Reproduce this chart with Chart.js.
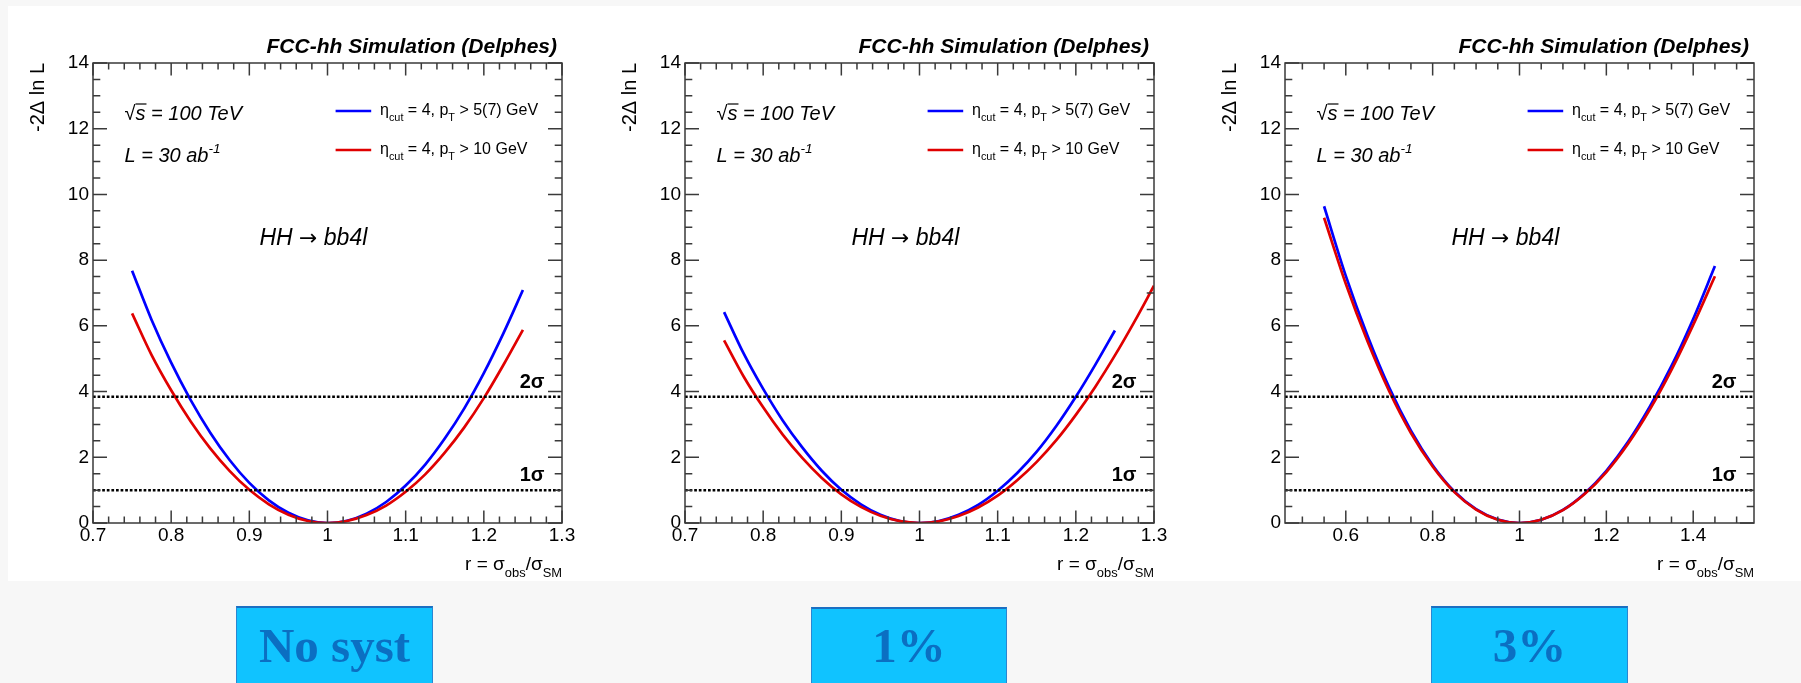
<!DOCTYPE html>
<html>
<head>
<meta charset="utf-8">
<script src="https://cdn.jsdelivr.net/npm/chart.js@4.4.1/dist/chart.umd.min.js"></script>
<style>
body { margin: 0; background: #f7f7f7; width: 1801px; height: 683px; overflow: hidden; position: relative; }
#sheet { position: absolute; left: 8px; top: 6px; width: 1793px; height: 575px; background: #fff; }
canvas { position: absolute; top: 0; }
.tag { position: absolute; height: 100px; box-sizing: border-box; background: #10c3ff;
       border: 1px solid #2a86d2; border-top: 2px solid #1b6fc2; }
.tag span { position: absolute; left: 0; right: 0; text-align: center;
            font: bold 49px 'Liberation Serif', serif; line-height: 49px; color: #0b6fc2; }
</style>
</head>
<body>
<div id="sheet"></div>
<canvas id="c0" width="600" height="590" style="left:0px"></canvas>
<canvas id="c1" width="600" height="590" style="left:592px"></canvas>
<canvas id="c2" width="600" height="590" style="left:1192px"></canvas>
<div class="tag" style="left:236px;top:606px;width:197px"><span id="t0" style="top:13px"></span></div>
<div class="tag" style="left:811px;top:607px;width:196px"><span id="t1" style="top:12px"></span></div>
<div class="tag" style="left:1431px;top:606px;width:197px"><span id="t2" style="top:13px"></span></div>

<script>
// r = sigma_obs / sigma_SM sample points
const rNarrow = [0.75, 0.775, 0.8, 0.825, 0.85, 0.875, 0.9, 0.925, 0.95, 0.975, 1,
                 1.025, 1.05, 1.075, 1.1, 1.125, 1.15, 1.175, 1.2, 1.225, 1.25];
const rNarrowExt = [0.75, 0.775, 0.8, 0.825, 0.85, 0.875, 0.9, 0.925, 0.95, 0.975, 1,
                    1.025, 1.05, 1.075, 1.1, 1.125, 1.15, 1.175, 1.2, 1.225, 1.25, 1.275, 1.3];
const rWide = [0.55, 0.6, 0.65, 0.7, 0.75, 0.8, 0.85, 0.9, 0.95, 1,
               1.05, 1.1, 1.15, 1.2, 1.25, 1.3, 1.35, 1.4, 1.45];

// -2 Delta ln L, no syst
const blueNoSyst = [7.68, 6.18, 4.88, 3.74, 2.75, 1.91, 1.22, 0.69, 0.31, 0.08, 0,
                    0.07, 0.285, 0.64, 1.14, 1.78, 2.57, 3.49, 4.56, 5.77, 7.09];
const redNoSyst = [6.38, 5.11, 4.04, 3.09, 2.27, 1.58, 1.01, 0.57, 0.25, 0.06, 0,
                   0.06, 0.24, 0.53, 0.95, 1.48, 2.14, 2.91, 3.80, 4.81, 5.88];
// 1% syst
const blueSyst1 = [6.42, 5.16, 4.08, 3.12, 2.30, 1.59, 1.01, 0.57, 0.25, 0.06, 0,
                   0.06, 0.25, 0.55, 0.98, 1.52, 2.17, 2.95, 3.84, 4.82, 5.86];
const redSyst1 = [5.56, 4.46, 3.52, 2.69, 1.98, 1.37, 0.87, 0.49, 0.22, 0.055, 0,
                  0.05, 0.21, 0.47, 0.83, 1.30, 1.86, 2.52, 3.29, 4.15, 5.10, 6.13, 7.22];
// 3% syst
const blueSyst3 = [9.64, 7.52, 5.70, 4.12, 2.81, 1.76, 0.96, 0.42, 0.105, 0,
                   0.10, 0.40, 0.90, 1.59, 2.47, 3.54, 4.78, 6.21, 7.82];
const redSyst3 = [9.29, 7.28, 5.53, 4.01, 2.74, 1.72, 0.94, 0.41, 0.10, 0,
                  0.10, 0.39, 0.88, 1.55, 2.41, 3.45, 4.66, 6.03, 7.51];

const xTicksNarrow = [0.7, 0.8, 0.9, 1, 1.1, 1.2, 1.3];
const xTicksWide = [0.6, 0.8, 1, 1.2, 1.4];
const yTicks = [0, 2, 4, 6, 8, 10, 12, 14];
const sigmaLevels = [1, 3.84];
const sigmaLabels = ['1σ', '2σ'];
const tagLabels = ['No syst', '1%', '3%'];

const legendBlue = [['η', 'n'], ['cut', 'sub'], [' = 4, p', 'n'], ['T', 'sub'], [' > 5(7) GeV', 'n']];
const legendRed = [['η', 'n'], ['cut', 'sub'], [' = 4, p', 'n'], ['T', 'sub'], [' > 10 GeV', 'n']];
const xTitle = [['r = σ', 'n'], ['obs', 'sub'], ['/σ', 'n'], ['SM', 'sub']];
const sqrtText = [['√', 'n'], ['s', 'ovl'], [' = 100 TeV', 'n']];
const lumiText = [['L = 30 ab', 'n'], ['-1', 'sup']];
const procText = [['HH ', 'n'], ['→', 'arr'], [' bb4l', 'n']];

const FONT = "'Liberation Sans', Arial, sans-serif";
Chart.defaults.font.family = FONT;

function partFont(kind, size, style) {
    if (kind === 'arr') return `normal ${size * 0.95}px 'DejaVu Sans', sans-serif`;
    const s = (kind === 'sub' || kind === 'sup') ? size * 0.68 : size;
    return `${style} ${s}px ${FONT}`;
}

function drawRich(ctx, parts, x, y, size, style, align) {
    let w = 0;
    parts.forEach(([t, k]) => { ctx.font = partFont(k, size, style); w += ctx.measureText(t).width; });
    let cx = align === 'right' ? x - w : x;
    ctx.textAlign = 'left';
    ctx.textBaseline = 'alphabetic';
    parts.forEach(([t, k]) => {
        ctx.font = partFont(k, size, style);
        const tw = ctx.measureText(t).width;
        let dy = 0;
        if (k === 'sub') dy = size * 0.36;
        if (k === 'sup') dy = -size * 0.45;
        ctx.fillText(t, cx, y + dy);
        if (k === 'ovl') {
            ctx.beginPath();
            ctx.lineWidth = 1.2;
            ctx.moveTo(cx, y - size * 0.8);
            ctx.lineTo(cx + tw + 1, y - size * 0.8);
            ctx.stroke();
        }
        cx += tw;
    });
}

const rootStyle = {
    id: 'rootStyle',
    afterDraw(chart, args, opts) {
        const { ctx, chartArea: a, scales: { x, y } } = chart;
        const p = opts.panel;
        ctx.save();
        ctx.strokeStyle = '#3a3a3a';
        ctx.lineWidth = 1.5;
        ctx.strokeRect(a.left, a.top, a.width, a.height);

        // x ticks, top and bottom, pointing inward
        ctx.beginPath();
        for (let n = Math.ceil(p.xMin / p.xMinor - 1e-6); n * p.xMinor <= p.xMax + 1e-9; n++) {
            const v = n * p.xMinor;
            const major = p.xTicks.some(t => Math.abs(t - v) < 1e-6);
            const len = major ? 12.5 : 6.5;
            const px = x.getPixelForValue(v);
            ctx.moveTo(px, a.bottom); ctx.lineTo(px, a.bottom - len);
            ctx.moveTo(px, a.top); ctx.lineTo(px, a.top + len);
        }
        // y ticks, left and right
        for (let n = 0; n * 0.5 <= 14; n++) {
            const v = n * 0.5;
            const len = (v % 2 === 0) ? 14 : 7.3;
            const py = y.getPixelForValue(v);
            ctx.moveTo(a.left, py); ctx.lineTo(a.left + len, py);
            ctx.moveTo(a.right, py); ctx.lineTo(a.right - len, py);
        }
        ctx.stroke();

        ctx.fillStyle = '#000';
        ctx.strokeStyle = '#000';
        // header
        ctx.font = `italic bold 21px ${FONT}`;
        ctx.textAlign = 'right';
        ctx.fillText('FCC-hh Simulation (Delphes)', a.right - 5, a.top - 10);

        // y title
        ctx.save();
        ctx.translate(a.left - 49, a.top);
        ctx.rotate(-Math.PI / 2);
        ctx.font = `20px ${FONT}`;
        ctx.textAlign = 'right';
        ctx.fillText('-2Δ ln L', 0, 0);
        ctx.restore();

        // x title
        drawRich(ctx, xTitle, a.right, a.bottom + 47, 19, 'normal', 'right');

        // labels
        drawRich(ctx, sqrtText, a.left + 31.5, a.top + 57, 20, 'italic', 'left');
        drawRich(ctx, lumiText, a.left + 31.5, a.top + 98.7, 20, 'italic', 'left');
        drawRich(ctx, procText, a.left + 166.5, a.top + 182, 23, 'italic', 'left');

        // legend
        const ds = chart.data.datasets;
        [[ds[3], legendBlue, 48], [ds[2], legendRed, 87]].forEach(([d, parts, dy]) => {
            ctx.beginPath();
            ctx.strokeStyle = d.borderColor;
            ctx.lineWidth = 2.7;
            ctx.moveTo(a.left + 242.6, a.top + dy);
            ctx.lineTo(a.left + 278.2, a.top + dy);
            ctx.stroke();
            ctx.fillStyle = '#000';
            drawRich(ctx, parts, a.left + 287, a.top + dy + 3.8, 16, 'normal', 'left');
        });

        // sigma labels
        ctx.font = `bold 20px ${FONT}`;
        ctx.textAlign = 'right';
        sigmaLevels.forEach((lv, i) => {
            ctx.fillText(sigmaLabels[i], a.right - 17.5, y.getPixelForValue(lv) - 9);
        });
        ctx.restore();
    }
};

function pts(xs, ys) {
    return xs.map((v, i) => ({ x: v, y: ys[i] }));
}

function makeChart(id, panel) {
    return new Chart(document.getElementById(id), {
        type: 'line',
        data: {
            datasets: [
                ...sigmaLevels.map(lv => ({
                    data: [{ x: panel.xMin, y: lv }, { x: panel.xMax, y: lv }],
                    borderColor: '#000', borderWidth: 2.5, borderDash: [2.7, 1.9],
                    pointRadius: 0
                })),
                { data: pts(panel.rRed, panel.red), borderColor: '#e00000', borderWidth: 2.7,
                  pointRadius: 0, cubicInterpolationMode: 'monotone' },
                { data: pts(panel.rBlue, panel.blue), borderColor: '#0000ff', borderWidth: 2.7,
                  pointRadius: 0, cubicInterpolationMode: 'monotone' }
            ]
        },
        options: {
            responsive: false,
            animation: false,
            devicePixelRatio: 1,
            layout: { padding: { left: 33, right: 38, top: 63, bottom: 27 } },
            plugins: { legend: { display: false }, tooltip: { enabled: false }, rootStyle: { panel } },
            scales: {
                x: {
                    type: 'linear', min: panel.xMin, max: panel.xMax,
                    grid: { display: false, drawTicks: false }, border: { display: false },
                    ticks: { padding: 1, color: '#000', font: { size: 19 }, maxRotation: 0, autoSkip: false,
                             callback: v => String(+v.toFixed(2)) },
                    afterBuildTicks: s => { s.ticks = panel.xTicks.map(v => ({ value: v })); },
                    afterFit: s => { s.height = 40; s.paddingLeft = 0; s.paddingRight = 0; }
                },
                y: {
                    type: 'linear', min: 0, max: 14,
                    grid: { display: false, drawTicks: false }, border: { display: false },
                    ticks: { padding: 4, color: '#000', font: { size: 19 } },
                    afterBuildTicks: s => { s.ticks = yTicks.map(v => ({ value: v })); },
                    afterFit: s => { s.width = 60; s.paddingTop = 0; s.paddingBottom = 0; }
                }
            }
        },
        plugins: [rootStyle]
    });
}

const panels = [
    { xMin: 0.7, xMax: 1.3, xTicks: xTicksNarrow, xMinor: 0.02,
      rBlue: rNarrow, blue: blueNoSyst, rRed: rNarrow, red: redNoSyst },
    { xMin: 0.7, xMax: 1.3, xTicks: xTicksNarrow, xMinor: 0.02,
      rBlue: rNarrow, blue: blueSyst1, rRed: rNarrowExt, red: redSyst1 },
    { xMin: 0.46, xMax: 1.54, xTicks: xTicksWide, xMinor: 0.05,
      rBlue: rWide, blue: blueSyst3, rRed: rWide, red: redSyst3 }
];

panels.forEach((p, i) => makeChart('c' + i, p));
tagLabels.forEach((t, i) => { document.getElementById('t' + i).textContent = t; });
</script>
</body>
</html>
